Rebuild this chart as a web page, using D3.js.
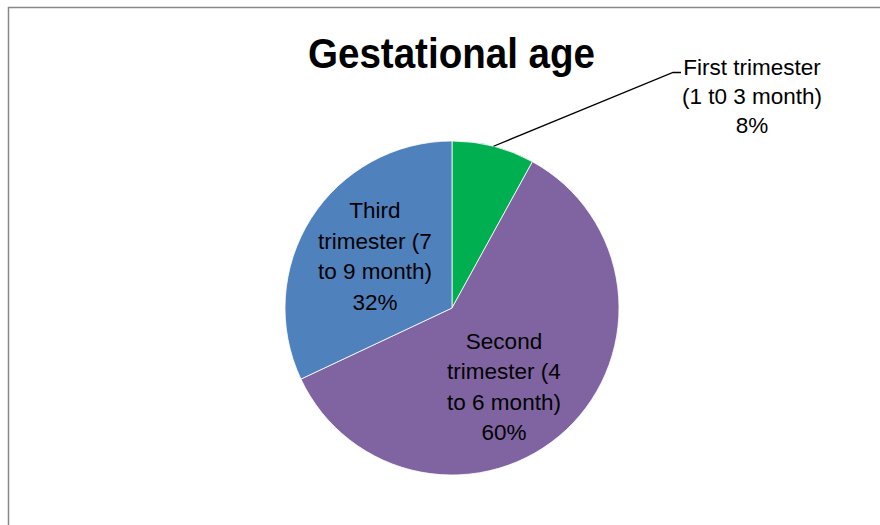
<!DOCTYPE html>
<html>
<head>
<meta charset="utf-8">
<script src="https://cdn.jsdelivr.net/npm/d3@7"></script>
<style>
  body { margin: 0; background: #fff; }
  svg { display: block; }
</style>
</head>
<body>
<div id="chart"></div>
<script>
const categories = ["First trimester", "Second trimester", "Third trimester"];
const values = [8, 60, 32];
const labelLines = [
    ["First trimester", "(1 t0 3 month)", "8%"],
    ["Second", "trimester (4", "to 6 month)", "60%"],
    ["Third", "trimester (7", "to 9 month)", "32%"]
];
const colours = ["#00B050", "#8064A2", "#4F81BD"];

const width = 880, height = 525;
const cx = 452, cy = 308, radius = 167;

// where Excel put each label block: x centre, first baseline, line step
const labelPos = [
    { x: 752, y: 75, step: 29 },
    { x: 504, y: 348.5, step: 30.5 },
    { x: 375, y: 218, step: 30.5 }
];

const svg = d3.select("#chart").append("svg")
    .attr("width", width)
    .attr("height", height);

svg.append("rect")
    .attr("x", 8.5)
    .attr("y", 7.5)
    .attr("width", width)
    .attr("height", height)
    .attr("fill", "#fff")
    .attr("stroke", "#888")
    .attr("stroke-width", 1.5);

// title is a condensed bold face in the original, squeeze it to the same width
svg.append("text")
    .attr("x", 451.5)
    .attr("y", 68)
    .attr("text-anchor", "middle")
    .attr("textLength", 287)
    .attr("lengthAdjust", "spacingAndGlyphs")
    .style("font-family", "'Liberation Sans', Arial, sans-serif")
    .style("font-weight", "bold")
    .style("font-size", "42px")
    .style("fill", "#000")
    .text("Gestational age");

const data = categories.map((c, i) => ({ name: c, value: values[i], i }));

const pie = d3.pie().sort(null).value(d => d.value);
const arc = d3.arc().innerRadius(0).outerRadius(radius);
const arcs = pie(data);

const g = svg.append("g")
    .attr("transform", `translate(${cx},${cy})`);

g.selectAll("path")
    .data(arcs)
    .join("path")
    .attr("d", arc)
    .attr("fill", d => colours[d.data.i])
    .attr("stroke", "#fff")
    .attr("stroke-width", 0.8);

// leader line for the small slice
const first = arcs[0];
const mid = (first.startAngle + first.endAngle) / 2;
const edge = [cx + Math.sin(mid) * radius, cy - Math.cos(mid) * radius];
svg.append("polyline")
    .attr("points", `${edge[0]},${edge[1]} 673,72.5 681,72.5`)
    .attr("fill", "none")
    .attr("stroke", "#000")
    .attr("stroke-width", 1.3);

const labels = svg.selectAll(".label")
    .data(labelLines)
    .join("text")
    .attr("class", "label")
    .attr("text-anchor", "middle")
    .style("font-family", "'Liberation Sans', Arial, sans-serif")
    .style("font-size", "22.5px")
    .style("fill", "#000");

labels.each(function(lines, i) {
    const p = labelPos[i];
    d3.select(this).selectAll("tspan")
        .data(lines)
        .join("tspan")
        .attr("x", p.x)
        .attr("y", (d, j) => p.y + j * p.step)
        .text(d => d);
});
</script>
</body>
</html>
